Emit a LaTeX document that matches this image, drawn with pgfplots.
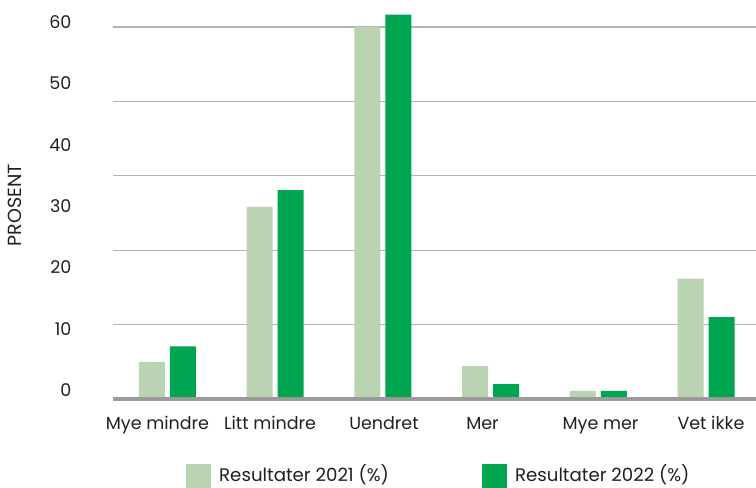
\documentclass[border=0pt]{standalone}
\usepackage{fontspec}
\setmainfont{Poppins}
\usepackage{pgfplots}
\pgfplotsset{compat=1.18}
\definecolor{lg}{HTML}{BAD4B2}
\definecolor{dg}{HTML}{00A54F}
\definecolor{gridc}{HTML}{B4B4B4}
\definecolor{basec}{HTML}{9A9A9A}
\definecolor{txt}{HTML}{231F20}
\begin{document}
\begin{tikzpicture}
\useasboundingbox (0,0) rectangle (756bp,488bp);
\begin{axis}[
  at={(113bp,89bp)}, anchor=south west,
  scale only axis, width=643bp, height=399bp,
  xmin=-0.506, xmax=5.464, ymin=0, ymax=64.35,
  ybar=5bp, bar width=26bp,
  axis line style={draw=none},
  major tick length=0pt,
  xtick={-0.093,0.952,2.010,2.925,4.021,5.046},
  xticklabels={Mye mindre,Litt mindre,Uendret,Mer,Mye mer,Vet ikke},
  xticklabel style={anchor=base, yshift=-31bp},
  ytick={1.45,11.34,21.22,31.11,41.0,50.89,60.77},
  yticklabels={0,10,20,30,40,50,60},
  yticklabel style={anchor=east, xshift=-38bp},
  extra y ticks={12,24,36,48,60},
  extra y tick labels={},
  extra y tick style={grid=major, major grid style={draw=gridc, line width=1.2bp}},
  ylabel={PROSENT},
  every axis y label/.style={at={(axis description cs:-0.152,0.486)}, rotate=90, anchor=center,
    font=\fontsize{19bp}{22bp}\selectfont, text=txt},
  tick label style={font=\fontsize{17.5bp}{21bp}\selectfont, text=txt},
  legend style={at={(axis description cs:0.1135,-0.193)}, anchor=west, draw=none, fill=none,
    legend columns=2, font=\fontsize{18.2bp}{22bp}\selectfont, text=txt,
    inner sep=0pt, nodes={inner sep=0pt, text=txt},
    /tikz/column 2/.style={column sep=93bp}, /tikz/column 1/.style={column sep=8bp}, /tikz/column 3/.style={column sep=8bp}},
  legend cell align=left,
  legend image code/.code={\fill[#1] (0bp,-14bp) rectangle (25bp,10bp);},
  clip=false,
]
\addplot[fill=lg, draw=none] coordinates {(0,6.0) (1,31.0) (2,60.0) (3,5.3) (4,1.3) (5,19.4)};
\addplot[fill=dg, draw=none] coordinates {(0,8.5) (1,33.7) (2,62.0) (3,2.4) (4,1.3) (5,13.2)};
\legend{Resultater 2021 (\%),Resultater 2022 (\%)}
\draw[basec, line width=3bp] (axis cs:-0.506,0) -- (axis cs:5.464,0);
\end{axis}
\end{tikzpicture}
\end{document}
